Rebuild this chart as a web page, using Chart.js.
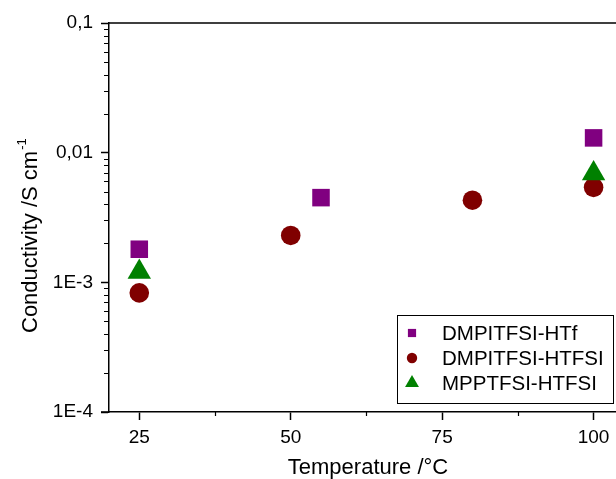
<!DOCTYPE html>
<html lang="en">
<head>
  <meta charset="UTF-8">
  <title>Conductivity vs temperature</title>
  <script src="https://cdn.jsdelivr.net/npm/chart.js@4.4.0/dist/chart.umd.min.js"></script>
  <style>
    html, body { margin: 0; padding: 0; background: #fff; }
    canvas { display: block; }
  </style>
</head>
<body>
  <canvas id="cond" width="616" height="479"></canvas>

<script>
  // data
  const seriesNames = ["DMPITFSI-HTf", "DMPITFSI-HTFSI", "MPPTFSI-HTFSI"];
  const htfTemp = [25, 55, 100];
  const htfCond = [1.8e-3, 4.5e-3, 1.3e-2];
  const htfsiTemp = [25, 50, 80, 100];
  const htfsiCond = [8.3e-4, 2.3e-3, 4.3e-3, 5.4e-3];
  const mppTemp = [25, 100];
  const mppCond = [1.2e-3, 6.9e-3];

  const xTicks = [25, 50, 75, 100];
  const xMinorTicks = [37.5, 62.5, 87.5];
  const yTicks = [1e-4, 1e-3, 1e-2, 1e-1];
  const yTickLabels = ["1E-4", "1E-3", "0,01", "0,1"];

  const FONT = "'Liberation Sans', Arial, Helvetica, sans-serif";

  const toPoints = (xs, ys) => xs.map((x, i) => ({ x: x, y: ys[i] }));

  // no extra padding for the edge tick labels, the plot box is fixed
  const noPad = s => {
    s._calculatePadding = function () {
      this.paddingLeft = 0; this.paddingRight = 0;
      this.paddingTop = 0; this.paddingBottom = 0;
    };
  };

  // axis titles, top frame line, minor ticks and the legend box
  const extras = {
    id: "extras",
    afterDraw(chart) {
      const ctx = chart.ctx;
      const area = chart.chartArea;
      const xs = chart.scales.x;
      const ys = chart.scales.y;
      ctx.save();
      ctx.strokeStyle = "#000";
      ctx.lineWidth = 1.5;

      // top frame, and the bottom axis running a bit past the y axis
      ctx.beginPath();
      ctx.moveTo(area.left, area.top);
      ctx.lineTo(chart.width, area.top);
      ctx.moveTo(area.left - 8, area.bottom);
      ctx.lineTo(area.left, area.bottom);
      ctx.stroke();

      // y minor ticks 2..9 per decade
      ctx.lineWidth = 1.2;
      ctx.beginPath();
      for (let d = -4; d < -1; d++) {
        for (let m = 2; m <= 9; m++) {
          const py = Math.round(ys.getPixelForValue(m * Math.pow(10, d))) + 0.5;
          ctx.moveTo(area.left - 5, py);
          ctx.lineTo(area.left, py);
        }
      }
      // x minor ticks
      xMinorTicks.forEach(v => {
        const px = Math.round(xs.getPixelForValue(v)) + 0.5;
        ctx.moveTo(px, area.bottom);
        ctx.lineTo(px, area.bottom + 4);
      });
      ctx.stroke();

      // axis titles
      ctx.fillStyle = "#000";
      ctx.font = "22px " + FONT;
      ctx.textBaseline = "alphabetic";
      ctx.textAlign = "center";
      ctx.fillText("Temperature /°C", 368, 474);

      ctx.save();
      ctx.translate(37, 333);
      ctx.rotate(-Math.PI / 2);
      ctx.textAlign = "left";
      const main = "Conductivity /S cm";
      ctx.fillText(main, 0, 0);
      const w = ctx.measureText(main).width;
      ctx.font = "13px " + FONT;
      ctx.fillText("-1", w + 1, -11);
      ctx.restore();

      // legend
      const lx = 397, ly = 315, lw = 216, lh = 88;
      ctx.fillStyle = "#fff";
      ctx.fillRect(lx, ly, lw, lh);
      ctx.lineWidth = 1;
      ctx.strokeStyle = "#000";
      ctx.strokeRect(lx + 0.5, ly + 0.5, lw, lh);
      const rows = [333, 358, 383];
      const legendRadius = [5.8, 5.2, 8];
      ctx.font = "20.5px " + FONT;
      ctx.textBaseline = "middle";
      ctx.textAlign = "left";
      chart.data.datasets.forEach((ds, i) => {
        ctx.fillStyle = ds.backgroundColor;
        ctx.strokeStyle = ds.backgroundColor;
        Chart.helpers.drawPoint(ctx, {
          pointStyle: ds.pointStyle,
          radius: legendRadius[i],
          rotation: 0,
          borderWidth: 0
        }, 412, rows[i]);
        ctx.fillStyle = "#000";
        ctx.fillText(ds.label, 442, rows[i] + 1);
      });
      ctx.restore();
    }
  };

  new Chart(document.getElementById("cond"), {
    type: "scatter",
    data: {
      datasets: [{
        label: seriesNames[0],
        data: toPoints(htfTemp, htfCond),
        pointStyle: "rect",
        pointRadius: 12.4,
        backgroundColor: "#800080",
        borderColor: "#800080",
        borderWidth: 0,
        order: 1
      }, {
        label: seriesNames[1],
        data: toPoints(htfsiTemp, htfsiCond),
        pointStyle: "circle",
        pointRadius: 9.8,
        backgroundColor: "#800000",
        borderColor: "#800000",
        borderWidth: 0,
        order: 2
      }, {
        label: seriesNames[2],
        data: toPoints(mppTemp, mppCond),
        pointStyle: "triangle",
        pointRadius: 13.5,
        backgroundColor: "#008000",
        borderColor: "#008000",
        borderWidth: 0,
        order: 0
      }]
    },
    options: {
      responsive: false,
      animation: false,
      devicePixelRatio: 1,
      events: [],
      // big markers would otherwise shrink the plot box
      layout: { autoPadding: false, padding: { top: 23, right: 0, left: 0, bottom: 0 } },
      plugins: {
        legend: { display: false },
        tooltip: { enabled: false }
      },
      scales: {
        x: {
          type: "linear",
          min: 20,
          max: 103.7,
          beforeFit: noPad,
          afterBuildTicks: s => { s.ticks = xTicks.map(v => ({ value: v })); },
          afterFit: s => { s.height = 67; },
          ticks: {
            color: "#000",
            padding: 6,
            maxRotation: 0,
            font: { family: FONT, size: 19 }
          },
          grid: {
            drawOnChartArea: false,
            tickLength: 8,
            tickWidth: 1.5,
            tickColor: "#000"
          },
          border: { color: "#000", width: 1.5 }
        },
        y: {
          type: "logarithmic",
          min: 1e-4,
          max: 0.1,
          beforeFit: noPad,
          afterBuildTicks: s => { s.ticks = yTicks.map(v => ({ value: v })); },
          afterFit: s => { s.width = 109; },
          ticks: {
            color: "#000",
            padding: 8,
            font: { family: FONT, size: 19 },
            callback: (v, i) => yTickLabels[i]
          },
          grid: {
            drawOnChartArea: false,
            tickLength: 8,
            tickWidth: 1.5,
            tickColor: "#000"
          },
          border: { color: "#000", width: 1.5 }
        }
      }
    },
    plugins: [extras]
  });
</script>
</body>
</html>
